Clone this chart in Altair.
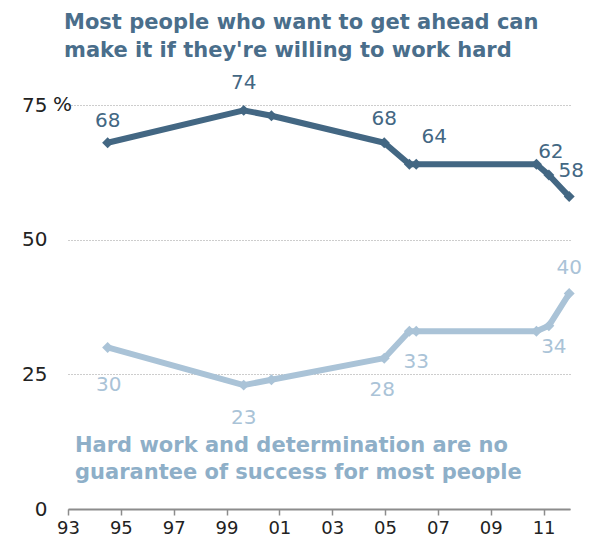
import altair as alt
import pandas as pd

# ---- data ----
years = [1994.5, 1999.65, 2000.7, 2004.97, 2005.92, 2006.18, 2010.73, 2011.2, 2011.97]
top_values = [68, 74, 73, 68, 64, 64, 64, 62, 58]
bottom_values = [30, 23, 24, 28, 33, 33, 33, 34, 40]
top_labels = ["68", "74", "", "68", "", "64", "", "62", "58"]
bottom_labels = ["30", "23", "", "28", "", "33", "", "34", "40"]
x_ticks = [1993, 1995, 1997, 1999, 2001, 2003, 2005, 2007, 2009, 2011]
y_ticks = [0, 25, 50, 75]
title_lines = ["Most people who want to get ahead can",
               "make it if they're willing to work hard"]
note_lines = ["Hard work and determination are no",
              "guarantee of success for most people"]

DARK = "#436783"
LIGHT = "#aac3d7"
TITLE_C = "#4a6e8b"
NOTE_C = "#8eafc8"
FONT = "DejaVu Sans"

rows = []
for i, (yr, v, lab) in enumerate(zip(years, top_values, top_labels)):
    rows.append({"year": yr, "value": v, "series": "top", "label": lab, "idx": i})
for i, (yr, v, lab) in enumerate(zip(years, bottom_values, bottom_labels)):
    rows.append({"year": yr, "value": v, "series": "bottom", "label": lab, "idx": i})
df = pd.DataFrame(rows)

X = alt.X("year:Q",
          scale=alt.Scale(domain=[1993, 2012], nice=False, zero=False),
          axis=alt.Axis(values=x_ticks, labelExpr="substring(toString(datum.value), 2)",
                        title=None, grid=False, domainColor="#8c8c8c", domainWidth=2,
                        tickColor="#8c8c8c", tickSize=6, tickWidth=1.5,
                        labelFontSize=18, labelColor="#222222", labelFont=FONT,
                        labelPadding=4, labelFlush=False, labelOverlap=False))
Y = alt.Y("value:Q",
          scale=alt.Scale(domain=[0, 75], nice=False),
          axis=alt.Axis(values=y_ticks, title=None, grid=True, gridDash=[1, 2],
                        gridColor="#9a9a9a", gridWidth=1, domain=False, ticks=False,
                        labelFontSize=20, labelColor="#222222", labelFont=FONT,
                        labelPadding=21, labelAlign="right", labelFlush=False))
color = alt.Color("series:N", scale=alt.Scale(domain=["top", "bottom"], range=[DARK, LIGHT]),
                  legend=None)

base = alt.Chart(df)
lines = base.mark_line(strokeWidth=6, strokeJoin="round").encode(x=X, y=Y, color=color, detail="series:N")
points = base.mark_point(shape="diamond", filled=True, size=120, opacity=1).encode(x=X, y=Y, color=color)

# label offsets (style only)
offsets = {
    ("top", 0): (0, -22), ("top", 1): (0, -27), ("top", 3): (0, -24),
    ("top", 5): (18, -27), ("top", 7): (2, -23), ("top", 8): (2, -26),
    ("bottom", 0): (1, 38), ("bottom", 1): (0, 33), ("bottom", 3): (-2, 32),
    ("bottom", 5): (0, 31), ("bottom", 7): (5, 21), ("bottom", 8): (0, -26),
}
label_layers = []
for (s, i), (dx, dy) in offsets.items():
    label_layers.append(
        base.transform_filter((alt.datum.series == s) & (alt.datum.idx == i))
        .mark_text(dx=dx, dy=dy, fontSize=20, font=FONT, baseline="middle", align="center",
                   color=DARK if s == "top" else LIGHT)
        .encode(x=X, y=Y, text="label:N")
    )

pct = alt.Chart(pd.DataFrame({"value": [75], "t": ["%"]})).mark_text(
    align="left", baseline="middle", fontSize=20, font=FONT, color="#222222"
).encode(x=alt.value(-15), y=Y, text="t:N")


def text_line(txt, xpix, ypix, col):
    return alt.Chart(pd.DataFrame({"t": [txt]})).mark_text(
        align="left", baseline="alphabetic", fontSize=21, fontWeight="bold", font=FONT, color=col
    ).encode(x=alt.value(xpix), y=alt.value(ypix), text="t:N")


texts = [
    text_line(title_lines[0], -4, -76, TITLE_C),
    text_line(title_lines[1], -4, -48, TITLE_C),
    text_line(note_lines[0], 7, 347, NOTE_C),
    text_line(note_lines[1], 7, 374, NOTE_C),
]

chart = alt.layer(lines, points, *label_layers, pct, *texts).properties(
    width=502, height=404,
    autosize=alt.AutoSizeParams(type="none"),
    padding={"left": 60, "top": 97, "right": 16, "bottom": 33},
).configure_view(stroke=None)

chart.save("out.html", embed_options={"renderer": "svg", "actions": False})
